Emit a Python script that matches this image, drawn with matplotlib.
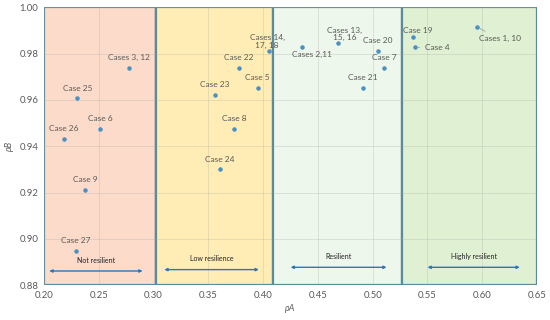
"""Resilience map of cases in the (rhoA, rhoB) plane."""

import matplotlib

matplotlib.use("Agg")
import matplotlib.pyplot as plt
from matplotlib.patches import Rectangle

# case labels and their coordinates
LABELS = [
    "Cases 3, 12", "Case 25", "Case 6", "Case 26", "Case 9", "Case 27",
    "Case 22", "Case 23", "Case 5", "Case 8", "Case 24", "Cases 14,\n17, 18",
    "Cases 2,11", "Cases 13,\n15, 16", "Case 20", "Case 7", "Case 21",
    "Case 19", "Case 4", "Cases 1, 10",
]
RHO_A = [
    0.2776, 0.2304, 0.2511, 0.2182, 0.2377, 0.2292,
    0.3779, 0.3563, 0.3950, 0.3736, 0.3603, 0.4055,
    0.4357, 0.4680, 0.5050, 0.5102, 0.4913,
    0.5364, 0.5382, 0.5948,
]
RHO_B = [
    0.9739, 0.9608, 0.9476, 0.9433, 0.9212, 0.8948,
    0.9739, 0.9623, 0.9652, 0.9476, 0.9300, 0.9810,
    0.9829, 0.9846, 0.9813, 0.9739, 0.9652,
    0.9872, 0.9827, 0.9916,
]

# resilience bands along rhoA
BAND_NAMES = ["Not resilient", "Low resilience", "Resilient", "Highly resilient"]
BAND_EDGES = [0.20, 0.302, 0.4087, 0.527, 0.65]
BAND_ARROWS = [(0.2048, 0.2900), (0.3098, 0.3961), (0.4251, 0.5127), (0.5500, 0.6343)]
BAND_ARROW_Y = [0.8861, 0.8867, 0.8877, 0.8877]
BAND_COLORS = ["#fcdbcb", "#ffedb5", "#eef7ec", "#e0f0d3"]

# label offsets in pixels (dx, dy, leader line)
OFFSETS = {
    "Cases 2,11": (10, -8, False),
    "Cases 13,\n15, 16": (7, 9, False),
    "Case 19": (5, 6, False),
    "Case 4": (23, 0, True),
    "Cases 1, 10": (23, -12, True),
    "Cases 14,\n17, 18": (-2, 10, False),
}

plt.rcParams["font.family"] = ["Lato", "DejaVu Sans"]

fig = plt.figure(figsize=(5.5, 3.2), dpi=100)
ax = fig.add_axes([0.08, 0.109, 0.8964, 0.868])
ax.set_xlim(0.20, 0.65)
ax.set_ylim(0.88, 1.00)

for i, color in enumerate(BAND_COLORS):
    ax.add_patch(Rectangle((BAND_EDGES[i], 0.88), BAND_EDGES[i + 1] - BAND_EDGES[i], 0.12,
                           facecolor=color, edgecolor="#5b8a9a", linewidth=1.6, zorder=0.5))

ax.set_xticks([0.20, 0.25, 0.30, 0.35, 0.40, 0.45, 0.50, 0.55, 0.60, 0.65])
ax.set_yticks([0.88, 0.90, 0.92, 0.94, 0.96, 0.98, 1.00])
ax.xaxis.set_major_formatter(lambda v, p: f"{v:.2f}")
ax.yaxis.set_major_formatter(lambda v, p: f"{v:.2f}")
ax.grid(True, color="#a0a0a0", alpha=0.25, linewidth=0.7, zorder=1)
ax.set_axisbelow(False)
for side in ("top", "right", "left", "bottom"):
    ax.spines[side].set_visible(False)
ax.tick_params(length=0, labelsize=6.8, colors="#595959", pad=4)

ax.scatter(RHO_A, RHO_B, s=5, color="#4a90c2", zorder=3)

for label, xa, yb in zip(LABELS, RHO_A, RHO_B):
    dx, dy, leader = OFFSETS.get(label, (0, 10, False))
    ax.annotate(label, (xa, yb), xytext=(dx, dy), textcoords="offset pixels",
                ha="center", va="center", fontsize=6, color="#595959", zorder=4,
                linespacing=1.1,
                arrowprops=dict(arrowstyle="-", color="#a0a0a0", lw=0.6,
                                shrinkA=2, shrinkB=2) if leader else None)

for name, (x0, x1), ya in zip(BAND_NAMES, BAND_ARROWS, BAND_ARROW_Y):
    ax.annotate("", xy=(x0, ya), xytext=(x1, ya),
                arrowprops=dict(arrowstyle="<|-|>", color="#2e75b6", lw=1.0,
                                mutation_scale=4, shrinkA=0, shrinkB=0), zorder=4)
    ax.text((x0 + x1) / 2, ya + 0.0046, name, ha="center", va="center",
            fontsize=5, color="#222222", zorder=4)

ax.set_xlabel("ρA", fontsize=6.5, color="#595959", style="italic", labelpad=3)
ax.set_ylabel("ρB", fontsize=6.5, color="#595959", style="italic", labelpad=4)

fig.savefig("out.png", dpi=100)
